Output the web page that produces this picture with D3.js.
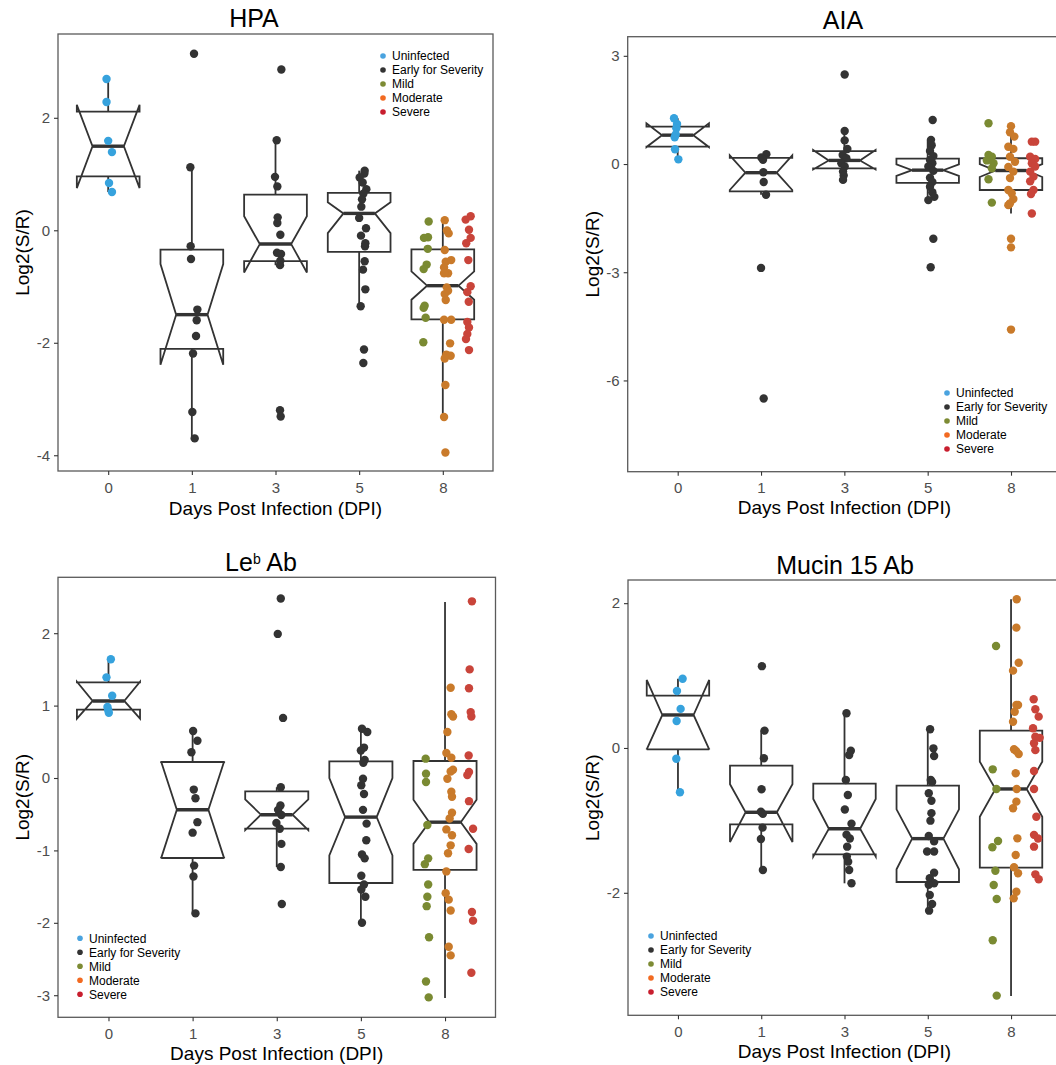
<!DOCTYPE html>
<html>
<head>
<meta charset="utf-8">
<script src="https://cdn.jsdelivr.net/npm/d3@7"></script>
<style>
  body { margin: 0; background: #fff; }
  svg { display: block; font-family: "Liberation Sans", Arial, Helvetica, sans-serif; }
</style>
</head>
<body>
<div id="chart"></div>
<script>
// categories
var dpiLabels = ["0", "1", "3", "5", "8"];
var groups = ["Uninfected", "Early for Severity", "Mild", "Moderate", "Severe"];
var pointColors = ["#36a2dd", "#333333", "#7a8a32", "#c97a2a", "#c9443a"];
var legendColors = ["#4aa3df", "#333333", "#7d8b34", "#f26a21", "#c81e2e"];

// box stats per day: [ymin, lower, middle, upper, ymax, notchLower, notchUpper]
// points: [dayIndex, groupIndex, value, jitter (category units)]

var hpaTicks = [-4, -2, 0, 2];
var hpaYRange = [-4.28, 3.49];
var hpaBoxes = [
    [0.68, 0.96, 1.495, 2.11, 2.69, 0.75, 2.23],
    [-3.70, -2.11, -1.50, -0.345, 1.12, -2.39, -0.60],
    [-0.62, -0.55, -0.245, 0.635, 1.60, -0.75, 0.25],
    [-1.35, -0.385, 0.30, 0.665, 1.06, -0.05, 0.50],
    [-3.32, -1.585, -0.985, -0.34, 0.20, -1.235, -0.73]
];
var hpaPoints = [
    [0,0,2.69,-0.02],[0,0,2.28,-0.02],[0,0,1.59,0],[0,0,1.39,0.045],[0,0,0.84,0.01],[0,0,0.68,0.045],
    [1,1,3.14,0.026],[1,1,1.12,-0.018],[1,1,-0.285,-0.014],[1,1,-0.51,-0.01],[1,1,-1.41,0.066],[1,1,-1.60,0.058],
    [1,1,-1.88,0.05],[1,1,-2.19,0.014],[1,1,-3.23,0.006],[1,1,-3.70,0.034],
    [2,1,2.86,0.07],[2,1,1.60,0.014],[2,1,0.95,-0.006],[2,1,0.78,0.022],[2,1,0.23,0.026],[2,1,0.13,0.022],
    [2,1,-0.08,0.058],[2,1,-0.40,0.018],[2,1,-0.42,0.066],[2,1,-0.54,0.058],[2,1,-0.62,0.054],[2,1,-3.20,0.054],[2,1,-3.31,0.062],
    [3,1,1.06,0.066],[3,1,1.01,0.062],[3,1,0.94,0.006],[3,1,0.85,0.042],[3,1,0.73,0.086],[3,1,0.65,0.05],
    [3,1,0.55,0.034],[3,1,0.42,0.026],[3,1,0.22,0],[3,1,0.035,0.082],[3,1,-0.095,0.022],[3,1,-0.23,0.074],
    [3,1,-0.285,0.07],[3,1,-0.55,0.066],[3,1,-0.70,0.046],[3,1,-1.05,0.074],[3,1,-1.35,0.018],[3,1,-2.12,0.058],[3,1,-2.36,0.05],
    [4,2,0.155,-0.169],[4,2,-0.125,-0.177],[4,2,-0.135,-0.225],[4,2,-0.33,-0.18],[4,2,-0.61,-0.193],
    [4,2,-0.69,-0.229],[4,2,-1.34,-0.217],[4,2,-1.38,-0.229],[4,2,-1.555,-0.205],[4,2,-1.99,-0.233],
    [4,3,0.18,0.023],[4,3,-0.005,0.05],[4,3,-0.055,0.07],[4,3,-0.35,0.023],[4,3,-0.56,0.035],[4,3,-0.53,0.1],
    [4,3,-0.66,0.015],[4,3,-0.765,0.063],[4,3,-0.765,0.015],[4,3,-1.015,0.047],[4,3,-1.075,0.063],[4,3,-1.135,0.023],
    [4,3,-1.24,0.035],[4,3,-1.59,0.015],[4,3,-1.59,0.1],[4,3,-2.01,0.087],[4,3,-2.21,0.043],[4,3,-2.23,0.094],
    [4,3,-2.28,0.023],[4,3,-2.75,0.031],[4,3,-3.32,0.015],[4,3,-3.95,0.031],
    [4,4,0.25,0.333],[4,4,0.19,0.273],[4,4,0.01,0.313],[4,4,-0.135,0.333],[4,4,-0.23,0.28],[4,4,-0.53,0.305],
    [4,4,-0.995,0.333],[4,4,-1.10,0.293],[4,4,-1.27,0.31],[4,4,-1.63,0.293],[4,4,-1.73,0.313],[4,4,-1.845,0.293],
    [4,4,-1.935,0.277],[4,4,-2.13,0.313]
];

var aiaTicks = [-6, -3, 0, 3];
var aiaYRange = [-8.53, 3.53];
var aiaBoxes = [
    [0.13, 0.48, 0.80, 1.035, 1.27, 0.47, 1.13],
    [-0.85, -0.76, -0.24, 0.17, 0.27, -0.72, 0.24],
    [-0.44, -0.12, 0.10, 0.36, 0.915, -0.15, 0.39],
    [-1.0, -0.52, -0.17, 0.15, 0.67, -0.33, -0.01],
    [-1.37, -0.72, -0.18, 0.16, 1.13, -0.36, 0.0]
];
var aiaPoints = [
    [0,0,1.27,-0.044],[0,0,1.11,-0.008],[0,0,0.99,-0.016],[0,0,0.82,-0.024],[0,0,0.74,-0.036],[0,0,0.41,-0.032],[0,0,0.13,0.008],
    [1,1,0.27,0.064],[1,1,0.18,0.004],[1,1,0.12,0.024],[1,1,-0.23,0.028],[1,1,-0.5,0.032],[1,1,-0.85,0.06],
    [1,1,-2.88,0.0],[1,1,-6.5,0.032],
    [2,1,2.48,0.004],[2,1,0.915,0.004],[2,1,0.655,0.004],[2,1,0.415,0.036],[2,1,0.25,-0.02],[2,1,0.16,0.024],
    [2,1,0.02,-0.036],[2,1,-0.07,0.004],[2,1,-0.21,-0.016],[2,1,-0.32,-0.008],[2,1,-0.44,-0.016],
    [3,1,1.22,0.06],[3,1,0.67,0.04],[3,1,0.52,0.048],[3,1,0.36,0.028],[3,1,0.22,0.068],[3,1,0.11,0.028],
    [3,1,0.02,0.056],[3,1,-0.07,0.008],[3,1,-0.19,0.068],[3,1,-0.38,0.028],[3,1,-0.50,0.056],[3,1,-0.63,0.028],
    [3,1,-0.78,0.056],[3,1,-0.91,0.08],[3,1,-1.0,0.008],[3,1,-2.07,0.068],[3,1,-2.86,0.036],
    [4,2,1.13,-0.27],[4,2,0.25,-0.27],[4,2,0.2,-0.23],[4,2,0.1,-0.29],[4,2,0.02,-0.21],[4,2,-0.12,-0.23],
    [4,2,-0.42,-0.27],[4,2,-1.07,-0.23],
    [4,3,1.05,0],[4,3,0.88,-0.012],[4,3,0.76,0.04],[4,3,0.48,-0.032],[4,3,0.42,0.028],[4,3,0.2,-0.012],
    [4,3,0.065,0.048],[4,3,-0.08,-0.032],[4,3,-0.21,0.028],[4,3,-0.39,-0.012],[4,3,-0.72,-0.032],[4,3,-0.81,0.008],
    [4,3,-0.97,0.028],[4,3,-1.09,-0.012],[4,3,-1.14,-0.032],[4,3,-2.07,0],[4,3,-2.31,0],[4,3,-4.59,0],
    [4,4,0.62,0.25],[4,4,0.62,0.29],[4,4,0.2,0.23],[4,4,0.14,0.29],[4,4,0.02,0.25],[4,4,-0.07,0.29],
    [4,4,-0.21,0.23],[4,4,-0.35,0.27],[4,4,-0.48,0.23],[4,4,-0.72,0.27],[4,4,-0.83,0.24],[4,4,-1.37,0.25]
];

var lebTicks = [-3, -2, -1, 0, 1, 2];
var lebYRange = [-3.305, 2.772];
var lebBoxes = [
    [0.90, 0.945, 1.064, 1.32, 1.64, 0.82, 1.33],
    [-1.87, -1.105, -0.438, 0.221, 0.65, -1.11, 0.23],
    [-1.23, -0.70, -0.507, -0.184, -0.128, -0.72, -0.294],
    [-2.0, -1.45, -0.54, 0.23, 0.68, -1.07, 0.0],
    [-3.04, -1.27, -0.61, 0.235, 2.43, -0.91, -0.30]
];
var lebPoints = [
    [0,0,1.64,0.028],[0,0,1.39,-0.024],[0,0,1.137,0.044],[0,0,0.98,-0.012],[0,0,0.94,-0.004],[0,0,0.90,0.004],
    [1,1,0.65,0.006],[1,1,0.515,0.057],[1,1,0.355,-0.014],[1,1,-0.16,0.014],[1,1,-0.28,0.034],[1,1,-0.61,0.057],
    [1,1,-0.755,0],[1,1,-1.21,0.018],[1,1,-1.36,0.01],[1,1,-1.87,0.034],
    [2,1,2.48,0.048],[2,1,1.99,0.012],[2,1,0.83,0.075],[2,1,-0.128,0.048],[2,1,-0.38,0.044],[2,1,-0.44,0.016],
    [2,1,-0.51,0.055],[2,1,-0.62,-0.004],[2,1,-0.70,0.036],[2,1,-0.91,0.055],[2,1,-1.23,0.048],[2,1,-1.74,0.06],
    [3,1,0.68,0.013],[3,1,0.635,0.076],[3,1,0.42,0.037],[3,1,0.38,0],[3,1,0.25,0.045],[3,1,0.21,0.029],
    [3,1,-0.01,0.025],[3,1,-0.10,0.005],[3,1,-0.22,0.037],[3,1,-0.44,0.025],[3,1,-0.63,0.068],[3,1,-0.86,0.064],
    [3,1,-1.055,0.013],[3,1,-1.11,0.045],[3,1,-1.35,0.005],[3,1,-1.47,0.037],[3,1,-1.54,0.005],[3,1,-1.64,0.053],[3,1,-2.0,0.013],
    [4,2,0.267,-0.23],[4,2,0.06,-0.226],[4,2,-0.055,-0.226],[4,2,-0.65,-0.21],[4,2,-1.11,-0.2],[4,2,-1.19,-0.24],
    [4,2,-1.47,-0.2],[4,2,-1.64,-0.21],[4,2,-1.77,-0.218],[4,2,-2.2,-0.19],[4,2,-2.81,-0.226],[4,2,-3.03,-0.194],
    [4,3,1.247,0.067],[4,3,0.88,0.075],[4,3,0.85,0.095],[4,3,0.635,0.028],[4,3,0.345,0.016],[4,3,0.28,0.075],
    [4,3,0.115,0.095],[4,3,0.09,0.067],[4,3,-0.01,0.028],[4,3,-0.19,0.075],[4,3,-0.26,0.083],[4,3,-0.48,0.083],
    [4,3,-0.56,0.055],[4,3,-0.71,0.016],[4,3,-0.79,0.083],[4,3,-0.93,0.067],[4,3,-1.04,0.036],[4,3,-1.29,0.016],
    [4,3,-1.59,0.008],[4,3,-1.68,0.044],[4,3,-1.83,0.067],[4,3,-2.33,0.044],[4,3,-2.45,0.067],
    [4,4,2.44,0.32],[4,4,1.5,0.293],[4,4,1.24,0.285],[4,4,0.91,0.305],[4,4,0.85,0.313],[4,4,0.31,0.281],
    [4,4,0.083,0.285],[4,4,0.04,0.265],[4,4,-0.32,0.285],[4,4,-0.70,0.333],[4,4,-0.98,0.281],[4,4,-1.85,0.32],
    [4,4,-1.97,0.333],[4,4,-2.69,0.313]
];

var mucTicks = [-2, 0, 2];
var mucYRange = [-3.692, 2.32];
var mucBoxes = [
    [-0.612, -0.018, 0.456, 0.723, 0.957, -0.02, 0.94],
    [-1.685, -1.054, -0.888, -0.245, 0.24, -1.30, -0.50],
    [-1.869, -1.469, -1.115, -0.493, 0.479, -1.50, -0.705],
    [-2.247, -1.851, -1.252, -0.52, 0.258, -1.676, -0.847],
    [-3.425, -1.653, -0.566, 0.24, 2.054, -0.949, -0.189]
];
var mucPoints = [
    [0,0,0.957,0.056],[0,0,0.787,-0.012],[0,0,0.54,0.032],[0,0,0.373,-0.016],[0,0,-0.148,-0.02],[0,0,-0.612,0.024],
    [1,1,1.13,0.008],[1,1,0.24,0.04],[1,1,-0.142,0.032],[1,1,-0.571,0.004],[1,1,-0.88,-0.004],[1,1,-0.91,0.02],
    [1,1,-1.10,0.016],[1,1,-1.257,-0.004],[1,1,-1.685,0.02],
    [2,1,0.479,0.024],[2,1,-0.037,0.076],[2,1,-0.097,0.056],[2,1,-0.442,0.016],[2,1,-0.65,0.04],[2,1,-0.85,0.004],
    [2,1,-1.045,0.084],[2,1,-1.197,0.024],[2,1,-1.25,0.064],[2,1,-1.363,0.032],[2,1,-1.50,0.028],[2,1,-1.57,0.044],
    [2,1,-1.686,0.056],[2,1,-1.869,0.084],
    [3,1,0.258,0.028],[3,1,-0.005,0.068],[3,1,-0.11,0.076],[3,1,-0.442,0.036],[3,1,-0.47,0.052],[3,1,-0.626,0.012],
    [3,1,-0.728,0.044],[3,1,-0.9,0.044],[3,1,-1.004,0.032],[3,1,-1.215,0.012],[3,1,-1.29,0.076],[3,1,-1.43,-0.008],
    [3,1,-1.43,0.076],[3,1,-1.722,0.076],[3,1,-1.80,0.024],[3,1,-1.869,0.076],[3,1,-1.89,0.012],[3,1,-2.03,0.024],
    [3,1,-2.155,0.052],[3,1,-2.247,0.016],
    [4,2,1.409,-0.18],[4,2,-0.295,-0.22],[4,2,-0.566,-0.176],[4,2,-1.285,-0.156],[4,2,-1.372,-0.224],
    [4,2,-1.695,-0.188],[4,2,-1.892,-0.208],[4,2,-2.085,-0.172],[4,2,-2.656,-0.22],[4,2,-3.42,-0.172],
    [4,3,2.054,0.068],[4,3,1.662,0.064],[4,3,1.178,0.092],[4,3,1.068,0.024],[4,3,0.594,0.064],[4,3,0.594,0.084],
    [4,3,0.50,0.044],[4,3,0.363,0.024],[4,3,-0.018,0.036],[4,3,-0.04,0.06],[4,3,-0.083,0.092],[4,3,-0.35,0.056],
    [4,3,-0.566,0.068],[4,3,-0.741,0.064],[4,3,-0.833,0.024],[4,3,-1.248,0.076],[4,3,-1.478,0.056],[4,3,-1.648,0.036],
    [4,3,-1.73,0.084],[4,3,-1.985,0.064],[4,3,-2.077,0.032],
    [4,4,0.672,0.272],[4,4,0.534,0.292],[4,4,0.433,0.332],[4,4,0.272,0.264],[4,4,0.156,0.292],[4,4,0.14,0.344],
    [4,4,0.065,0.276],[4,4,-0.03,0.292],[4,4,-0.318,0.276],[4,4,-0.566,0.276],[4,4,-0.949,0.304],[4,4,-1.20,0.276],
    [4,4,-1.25,0.324],[4,4,-1.363,0.276],[4,4,-1.745,0.292],[4,4,-1.814,0.332]
];

var svgwidth = 1056;
var svgheight = 1065;

var svg = d3.select("#chart").append("svg")
    .attr("width", svgwidth)
    .attr("height", svgheight);

svg.append("rect").attr("width", svgwidth).attr("height", svgheight).attr("fill", "#fff");

var drawPanel = function(p) {
    var l = p.frame[0], t = p.frame[1], r = p.frame[2], b = p.frame[3];

    var xScale = d3.scalePoint().domain(dpiLabels).range([l, r]).padding(0.6);
    var yScale = d3.scaleLinear().domain(p.yRange).range([b, t]);

    var g = svg.append("g");

    // boxes (notched, ggplot style)
    var bw = xScale.step() * 0.75;
    var indent = bw / 4;
    p.boxes.forEach(function(d, i) {
        var cx = xScale(dpiLabels[i]);
        var x0 = cx - bw / 2, x1 = cx + bw / 2;
        var ymin = d[0], lower = d[1], middle = d[2], upper = d[3], ymax = d[4], nl = d[5], nu = d[6];

        g.append("line")
            .attr("x1", cx).attr("x2", cx)
            .attr("y1", yScale(upper)).attr("y2", yScale(ymax))
            .attr("stroke", "#333").attr("stroke-width", 1.8);
        g.append("line")
            .attr("x1", cx).attr("x2", cx)
            .attr("y1", yScale(lower)).attr("y2", yScale(ymin))
            .attr("stroke", "#333").attr("stroke-width", 1.8);

        var outline = [[x0, upper], [x0, nu], [x0 + indent, middle], [x0, nl], [x0, lower],
                       [x1, lower], [x1, nl], [x1 - indent, middle], [x1, nu], [x1, upper]];
        g.append("path")
            .attr("d", d3.line()(outline.map(function(q){ return [q[0], yScale(q[1])]; })) + "Z")
            .attr("fill", "#fff")
            .attr("stroke", "#333")
            .attr("stroke-width", 1.8)
            .attr("stroke-linejoin", "miter");

        g.append("line")
            .attr("x1", x0 + indent).attr("x2", x1 - indent)
            .attr("y1", yScale(middle)).attr("y2", yScale(middle))
            .attr("stroke", "#333").attr("stroke-width", 3.4);
    });

    // jittered points
    g.selectAll("circle.pt")
        .data(p.points).enter().append("circle")
        .attr("class", "pt")
        .attr("cx", function(d){ return xScale(dpiLabels[d[0]]) + d[3] * xScale.step(); })
        .attr("cy", function(d){ return yScale(d[2]); })
        .attr("r", 4.2)
        .style("fill", function(d){ return pointColors[d[1]]; });

    // frame
    g.append("rect")
        .attr("x", l).attr("y", t)
        .attr("width", r - l).attr("height", b - t)
        .attr("fill", "none")
        .attr("stroke", "#5a5a5a")
        .attr("stroke-width", 1.3);

    // axes
    var yAxis = d3.axisLeft(yScale).tickValues(p.ticks).tickSize(4).tickPadding(4)
        .tickFormat(function(d){ return String(d); });
    var xAxis = d3.axisBottom(xScale).tickSize(4).tickPadding(7);

    var ya = g.append("g").attr("transform", "translate(" + l + ",0)").call(yAxis);
    var xa = g.append("g").attr("transform", "translate(0," + b + ")").call(xAxis);
    [ya, xa].forEach(function(a) {
        a.select(".domain").remove();
        a.selectAll(".tick line").attr("stroke", "#333").attr("stroke-width", 1.1);
        a.selectAll(".tick text")
            .attr("fill", "#4d4d4d")
            .style("font-size", "15px")
            .style("font-family", "'Liberation Sans', Arial, sans-serif");
    });

    // titles
    var title = g.append("text")
        .attr("x", p.titleX).attr("y", p.titleY)
        .attr("text-anchor", "middle")
        .style("font-size", "25px")
        .attr("fill", "#000");
    if (p.sup) {
        title.append("tspan").text(p.title[0]);
        title.append("tspan").text(p.sup).style("font-size", "14px").attr("dy", -7);
        title.append("tspan").text(p.title[1]).attr("dy", 7);
    } else {
        title.text(p.title);
    }

    g.append("text")
        .attr("x", (l + r) / 2).attr("y", p.xTitleY)
        .attr("text-anchor", "middle")
        .style("font-size", "19px")
        .attr("fill", "#000")
        .text("Days Post Infection (DPI)");

    g.append("text")
        .attr("transform", "translate(" + p.yTitleX + "," + ((t + b) / 2) + ") rotate(-90)")
        .attr("text-anchor", "middle")
        .style("font-size", "19px")
        .attr("fill", "#000")
        .text("Log2(S/R)");

    // legend
    var lg = g.append("g").attr("transform", "translate(" + p.legend[0] + "," + p.legend[1] + ")");
    groups.forEach(function(name, i) {
        lg.append("circle")
            .attr("cx", 0).attr("cy", i * 14)
            .attr("r", 2.8)
            .style("fill", legendColors[i]);
        lg.append("text")
            .attr("x", 9).attr("y", i * 14 + 4.3)
            .style("font-size", "12px")
            .attr("fill", "#000")
            .text(name);
    });
};

drawPanel({ title: "HPA", boxes: hpaBoxes, points: hpaPoints, ticks: hpaTicks, yRange: hpaYRange,
    frame: [58, 34, 493, 471], titleX: 254, titleY: 27, xTitleY: 515, yTitleX: 29, legend: [383, 56] });
drawPanel({ title: "AIA", boxes: aiaBoxes, points: aiaPoints, ticks: aiaTicks, yRange: aiaYRange,
    frame: [627.7, 36.7, 1061, 471.7], titleX: 843, titleY: 28.5, xTitleY: 514, yTitleX: 599, legend: [947, 393] });
drawPanel({ title: ["Le", " Ab"], sup: "b", boxes: lebBoxes, points: lebPoints, ticks: lebTicks, yRange: lebYRange,
    frame: [58, 577.3, 495.5, 1017.3], titleX: 261, titleY: 571, xTitleY: 1060, yTitleX: 29, legend: [80, 938.3] });
drawPanel({ title: "Mucin 15 Ab", boxes: mucBoxes, points: mucPoints, ticks: mucTicks, yRange: mucYRange,
    frame: [628, 580, 1061, 1015.3], titleX: 845, titleY: 573.5, xTitleY: 1058, yTitleX: 599, legend: [651, 936] });
</script>
</body>
</html>
